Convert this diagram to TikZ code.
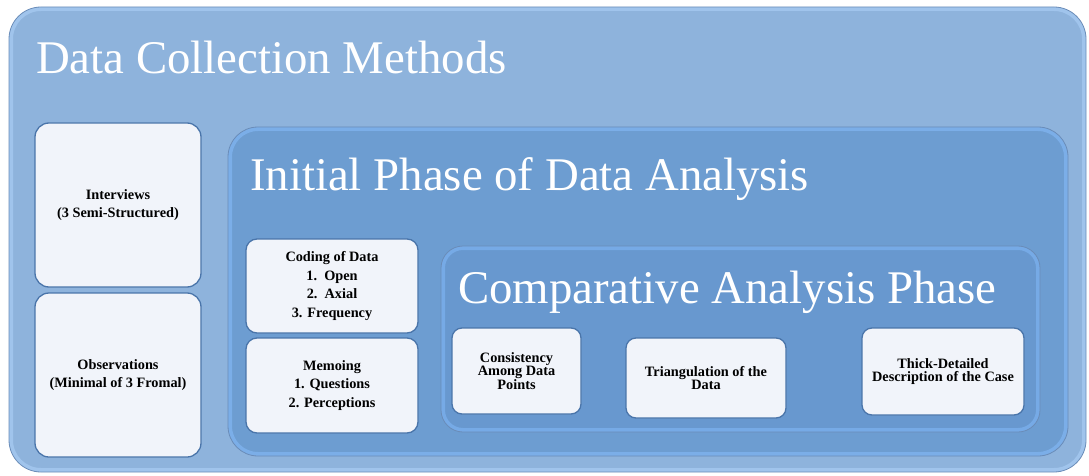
\documentclass[tikz,border=0pt]{standalone}
\usepackage{fontspec}
\setmainfont{Liberation Serif}
\begin{document}
\begin{tikzpicture}[x=1pt,y=-1pt]
\definecolor{outerfill}{HTML}{8EB3DC}
\definecolor{outerrim}{HTML}{A0C4EC}
\definecolor{initfill}{HTML}{6D9DD1}
\definecolor{initrim}{HTML}{7BAEE8}
\definecolor{compfill}{HTML}{6898CF}
\definecolor{comprim}{HTML}{76AAE6}
\definecolor{edgecol}{HTML}{6A8CB8}
\definecolor{cardfill}{HTML}{F1F4FA}
\definecolor{cardedge}{HTML}{4A75AA}
\tikzset{
  container/.style={rectangle, rounded corners=#1, line width=4pt, inner sep=0pt, outer sep=2pt},
  card/.style={rectangle, rounded corners=14pt, draw=cardedge, line width=1.3pt, fill=cardfill,
    inner sep=2pt, align=center, font=\bfseries\fontsize{14.3}{18.5}\selectfont},
  cardtight/.style={card, font=\bfseries\fontsize{14.3}{13}\selectfont},
  title/.style={anchor=base west, inner sep=0pt, text=white, font=\fontsize{46.8}{52}\selectfont},
  rimline/.style={draw=edgecol, line width=0.8pt}
}
\useasboundingbox (0,0) rectangle (1089,476);
% outer container
\node[container=30pt, draw=outerrim, fill=outerfill, minimum width=1073, minimum height=461] (dcm) at (547.5,239.5) {};
\draw[rimline, rounded corners=32pt] (dcm.north west) rectangle (dcm.south east);
\node[title] (dcmtitle) at (36,74) {Data Collection Methods};
% initial phase container
\node[container=28pt, draw=initrim, fill=initfill, minimum width=836, minimum height=325] (ipd) at (648,291.5) {};
\draw[rimline, rounded corners=30pt] (ipd.north west) rectangle (ipd.south east);
\node[title] (ipdtitle) at (250,190) {Initial Phase of Data Analysis};
% comparative container
\node[container=20pt, draw=comprim, fill=compfill, minimum width=595, minimum height=182] (cap) at (740.5,339) {};
\draw[rimline, rounded corners=22pt] (cap.north west) rectangle (cap.south east);
\node[title] (captitle) at (458,303) {Comparative Analysis Phase};
% cards
\node[card, minimum width=166, minimum height=164] (interviews) at (118,205) {Interviews\\(3 Semi-Structured)};
\node[card, minimum width=166, minimum height=164] (observations) at (118,375) {Observations\\(Minimal of 3 Fromal)};
\node[card, minimum width=172, minimum height=94, rounded corners=11pt] (coding) at (332,286) {Coding of Data\\1.\ \ Open\\2.\ \ Axial\\3. Frequency};
\node[card, minimum width=172, minimum height=95, rounded corners=11pt] (memoing) at (332,385.5) {Memoing\\1. Questions\\2. Perceptions};
\node[cardtight, minimum width=129, minimum height=86, rounded corners=10pt] (consistency) at (516.5,371) {Consistency\\Among Data\\Points};
\node[cardtight, minimum width=160, minimum height=80, rounded corners=10pt] (triangulation) at (706,378) {Triangulation of the\\Data};
\node[cardtight, minimum width=162, minimum height=87, rounded corners=10pt] (thick) at (943,371.5) {Thick-Detailed\\Description of the Case};
\end{tikzpicture}
\end{document}
